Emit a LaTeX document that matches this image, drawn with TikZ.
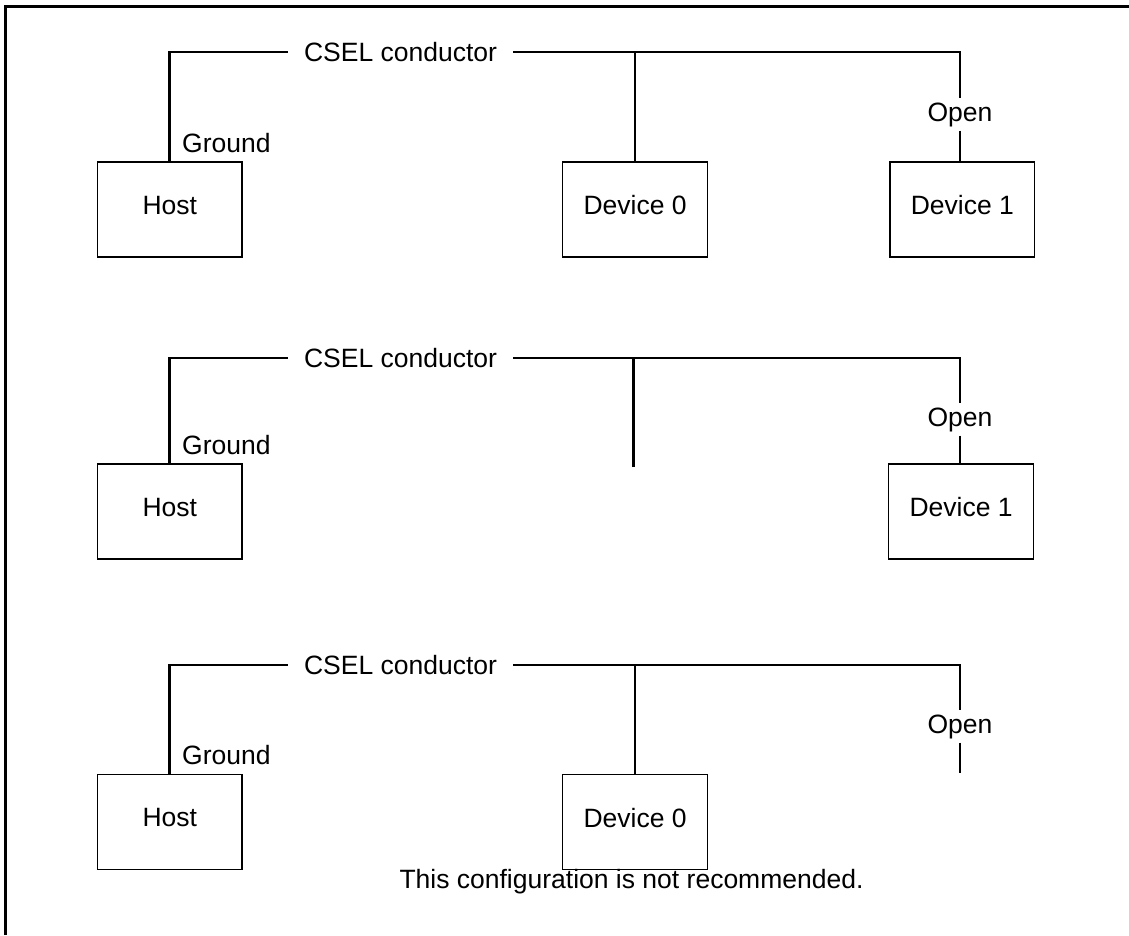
\documentclass[tikz,border=0pt]{standalone}
\usepackage{fontspec}
\setmainfont{Liberation Sans}
\usetikzlibrary{positioning}

\begin{document}
\begin{tikzpicture}[
    x = 1pt, y = -1pt, % pixel grid, y going down
    font = \fontsize{26.5}{32}\selectfont,
    wire/.style = {line width = 2.6pt}, % CSEL conductor
    frame/.style = {line width = 3pt}
    ]

    \tikzset{
    box/.style = {
    draw = black,
    line width = 1.3pt,
    minimum width = 144.5pt,
    minimum height = 95pt,
    inner sep = 0pt,
    text depth = 9pt
    },
    lbl/.style = {inner sep = 0pt},
    cond/.style = {inner xsep = 16pt, inner ysep = 0pt},
    opn/.style = {inner xsep = 0pt, inner ysep = 4pt}
    }
    \useasboundingbox (0,0) rectangle (1129,935);
    \draw[frame] (5,935) -- (5,6) -- (1129,6);

    % first: host, device 0, device 1
    \node[box] (h1) at (169.75,209.5) {Host};
    \node[box] (a1) [right=319.5pt of h1] {Device 0};
    \node[box] (b1) [right=181.5pt of a1] {Device 1};
    \node[cond] (c1) at (400.5,52) {CSEL conductor};
    \node[opn] (o1) at (960,114.5) {Open};
    \node[lbl] (g1) [above right=8.5pt and 12.25pt of h1.north] {Ground};
    \coordinate (e1) at (o1 |- c1);

    \draw[wire] (h1.north) |- (c1.west);
    \draw[wire] (c1.east) -- (e1) -- (o1.north);
    \draw[wire] (o1.south) -- (o1.south |- b1.north);
    \draw[wire] (a1.north) -- (a1.north |- c1);

    % second: host, device 1
    \node[box] (h2) at (169.75,511.5) {Host};
    \node[box] (b2) [right=645.5pt of h2] {Device 1};
    \node[cond] (c2) at (400.5,358) {CSEL conductor};
    \node[opn] (o2) at (960,419.5) {Open};
    \node[lbl] (g2) [above right=8.5pt and 12.25pt of h2.north] {Ground};
    \coordinate (e2) at (o2 |- c2);
    \coordinate (s2) at (633.75,467);

    \draw[wire] (h2.north) |- (c2.west);
    \draw[wire] (c2.east) -- (e2) -- (o2.north);
    \draw[wire] (o2.south) -- (o2.south |- b2.north);
    \draw[wire] (s2) -- (s2 |- c2);

    % third: host, device 0
    \node[box] (h3) at (169.75,822) {Host};
    \node[box] (a3) [right=319.5pt of h3] {Device 0};
    \node[cond] (c3) at (400.5,665) {CSEL conductor};
    \node[opn] (o3) at (960,726.5) {Open};
    \node[lbl] (g3) [above right=8.5pt and 12.25pt of h3.north] {Ground};
    \node[lbl] (n3) at (631.5,882) {This configuration is not recommended.};
    \coordinate (e3) at (o3 |- c3);
    \coordinate (f3) at (960,773);

    \draw[wire] (h3.north) |- (c3.west);
    \draw[wire] (c3.east) -- (e3) -- (o3.north);
    \draw[wire] (o3.south) -- (f3);
    \draw[wire] (a3.north) -- (a3.north |- c3);
\end{tikzpicture}
\end{document}
